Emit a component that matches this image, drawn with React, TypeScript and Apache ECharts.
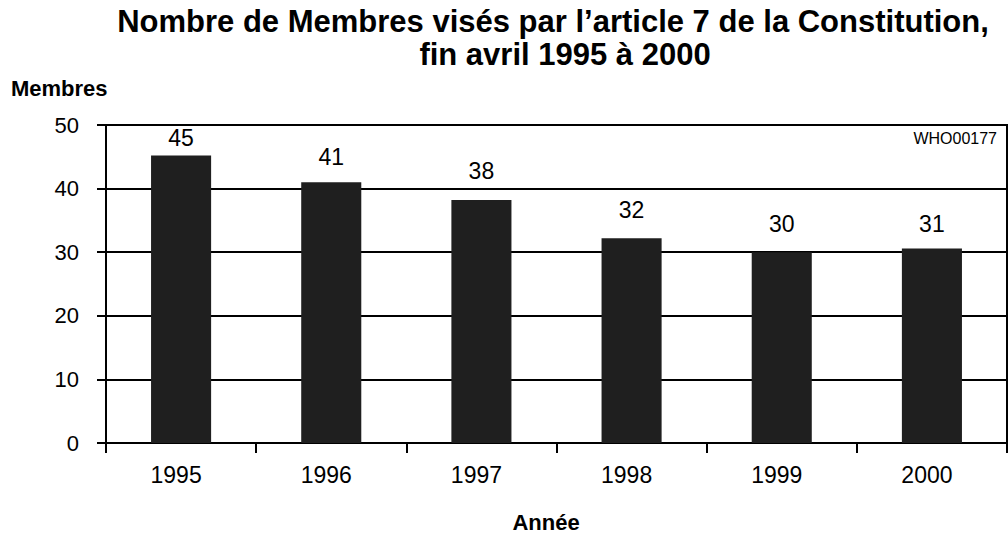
import React, { useEffect, useRef } from "react";
import * as echarts from "echarts";

const years = ["1995", "1996", "1997", "1998", "1999", "2000"];
const members = [45.2, 41, 38.2, 32.2, 30, 30.6];
const barLabels = ["45", "41", "38", "32", "30", "31"];

const titleLine1 = "Nombre de Membres visés par l’article 7 de la Constitution,";
const titleLine2 = "fin avril 1995 à 2000";
const yName = "Membres";
const xName = "Année";
const code = "WHO00177";

// label gap above each bar (style only)
const labelGaps = [6, 14, 18, 17, 17, 13];

const FONT = "'Liberation Sans', Arial, Helvetica, sans-serif";

export default function App() {
  const ref = useRef<HTMLDivElement>(null);
  useEffect(() => {
    if (!ref.current) return;
    const chart = echarts.init(ref.current, null, { renderer: "svg" });
    chart.setOption({
      animation: false,
      backgroundColor: "#ffffff",
      textStyle: { fontFamily: FONT },
      grid: {
        left: 106,
        right: 1,
        top: 125,
        bottom: 92,
        show: true,
        borderColor: "#000",
        borderWidth: 2,
        containLabel: false,
      },
      xAxis: {
        type: "category",
        data: years,
        axisLine: { show: true, lineStyle: { color: "#000", width: 2 } },
        axisTick: { show: true, inside: false, length: 10, alignWithLabel: false, lineStyle: { color: "#000", width: 2 } },
        axisLabel: { color: "#000", fontSize: 23, margin: 20, fontFamily: FONT, padding: [0, 10, 0, 0] },
        splitLine: { show: false },
      },
      yAxis: {
        type: "value",
        min: 0,
        max: 50,
        interval: 10,
        axisLine: { show: true, lineStyle: { color: "#000", width: 2 } },
        axisTick: { show: true, inside: false, length: 9, lineStyle: { color: "#000", width: 2 } },
        axisLabel: { color: "#000", fontSize: 22, margin: 27, fontFamily: FONT },
        splitLine: { show: true, lineStyle: { color: "#000", width: 2 } },
      },
      series: [
        {
          type: "bar",
          data: members.map((v, i) => ({
            value: v,
            label: { distance: labelGaps[i] },
          })),
          barWidth: "40%",
          itemStyle: { color: "#1f1f1f" },
          label: {
            show: true,
            position: "top",
            color: "#000",
            fontSize: 23,
            fontFamily: FONT,
            formatter: (p: any) => barLabels[p.dataIndex],
          },
        },
      ],
      graphic: [
        {
          type: "text",
          x: 553,
          y: 21,
          style: { text: titleLine1, fill: "#000", font: `bold 31px ${FONT}`, textAlign: "center", textVerticalAlign: "middle" },
        },
        {
          type: "text",
          x: 565,
          y: 54,
          style: { text: titleLine2, fill: "#000", font: `bold 31px ${FONT}`, textAlign: "center", textVerticalAlign: "middle" },
        },
        {
          type: "text",
          x: 11,
          y: 88,
          style: { text: yName, fill: "#000", font: `bold 22px ${FONT}`, textAlign: "left", textVerticalAlign: "middle" },
        },
        {
          type: "text",
          x: 997,
          y: 138,
          style: { text: code, fill: "#000", font: `16px ${FONT}`, textAlign: "right", textVerticalAlign: "middle" },
        },
        {
          type: "text",
          x: 546,
          y: 522,
          style: { text: xName, fill: "#000", font: `bold 22px ${FONT}`, textAlign: "center", textVerticalAlign: "middle" },
        },
      ],
    });
    return () => chart.dispose();
  }, []);
  return <div ref={ref} style={{ position: "fixed", left: 0, top: 0, width: 1008, height: 535 }} />;
}
